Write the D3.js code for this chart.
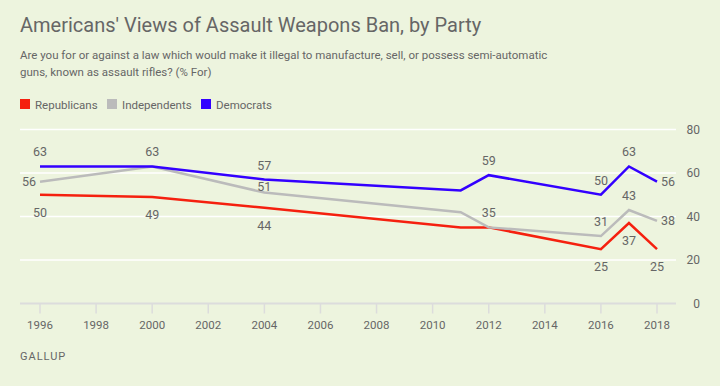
<!DOCTYPE html>
<html>
<head>
<meta charset="utf-8">
<script src="https://cdn.jsdelivr.net/npm/d3@7"></script>
<style>
  body { margin: 0; background: #edf4de; }
  svg { display: block; font-family: Roboto, "Noto Sans", sans-serif; }
</style>
</head>
<body>
<svg id="chart" width="720" height="386"></svg>
<script>
// years surveyed
var years = [1996, 2000, 2004, 2011, 2012, 2016, 2017, 2018];
// % for, by party
var republicans = [50, 49, 44, 35, 35, 25, 37, 25];
var independents = [56, 63, 51, 42, 35, 31, 43, 38];
var democrats = [63, 63, 57, 52, 59, 50, 63, 56];
var yTicks = [0, 20, 40, 60, 80];
var xTicks = [1996, 1998, 2000, 2002, 2004, 2006, 2008, 2010, 2012, 2014, 2016, 2018];

// where each value label goes: a = above, c = just above, b = below, l = left, r = right, "" = none
var repPos = ["b", "b", "b", "", "", "b", "b", "b"];
var indPos = ["l", "", "c", "", "a", "a", "a", "r"];
var demPos = ["a", "a", "a", "", "a", "a", "a", "r"];

var series = [
  {name: "Republicans", values: republicans, pos: repPos, colour: "#f5200f"},
  {name: "Independents", values: independents, pos: indPos, colour: "#bbbbbb"},
  {name: "Democrats", values: democrats, pos: demPos, colour: "#3300ff"}
];

var svg = d3.select("#chart");
var textCol = "#666";

var x = d3.scaleLinear().domain([1996, 2018]).range([40, 657]);
var y = d3.scaleLinear().domain([0, 80]).range([303.5, 129.5]);

// title + question
svg.append("text").attr("x", 20).attr("y", 32)
  .attr("font-size", 20).attr("fill", textCol)
  .text("Americans' Views of Assault Weapons Ban, by Party");
var sub = svg.append("text").attr("font-size", 11.5).attr("fill", textCol);
sub.append("tspan").attr("x", 20).attr("y", 59)
  .text("Are you for or against a law which would make it illegal to manufacture, sell, or possess semi-automatic");
sub.append("tspan").attr("x", 20).attr("y", 76)
  .text("guns, known as assault rifles? (% For)");

// legend
var lx = [20, 107, 201];
var leg = svg.selectAll(".leg").data(series).enter().append("g")
  .attr("transform", function(d, i) { return "translate(" + lx[i] + ",99)"; });
leg.append("rect").attr("width", 10).attr("height", 10).attr("fill", function(d) { return d.colour; });
leg.append("text").attr("x", 15).attr("y", 9.5).attr("font-size", 11.5).attr("fill", textCol)
  .text(function(d) { return d.name; });

// grid
svg.selectAll(".grid").data(yTicks.filter(function(t) { return t > 0; })).enter().append("line")
  .attr("x1", 20).attr("x2", 676)
  .attr("y1", function(d) { return y(d); }).attr("y2", function(d) { return y(d); })
  .attr("stroke", "#fff").attr("stroke-width", 1.5);

svg.selectAll(".ylab").data(yTicks).enter().append("text")
  .attr("x", 700).attr("y", function(d) { return y(d) + 4; })
  .attr("text-anchor", "end").attr("font-size", 12).attr("fill", textCol)
  .text(function(d) { return d; });

// x axis
svg.append("line").attr("x1", 20).attr("x2", 676).attr("y1", y(0)).attr("y2", y(0))
  .attr("stroke", "#dcdcdc").attr("stroke-width", 2);
svg.selectAll(".xt").data(xTicks).enter().append("line")
  .attr("x1", function(d) { return x(d); }).attr("x2", function(d) { return x(d); })
  .attr("y1", y(0)).attr("y2", y(0) + 10)
  .attr("stroke", "#dcdcdc").attr("stroke-width", 1.5);
svg.selectAll(".xlab").data(xTicks).enter().append("text")
  .attr("x", function(d) { return x(d); }).attr("y", 329)
  .attr("text-anchor", "middle").attr("font-size", 11.5).attr("fill", textCol)
  .text(function(d) { return d; });

// lines
var line = d3.line()
  .x(function(d, i) { return x(years[i]); })
  .y(function(d) { return y(d); });

svg.selectAll(".series").data(series).enter().append("path")
  .attr("d", function(d) { return line(d.values); })
  .attr("fill", "none")
  .attr("stroke", function(d) { return d.colour; })
  .attr("stroke-width", 2.5);

// value labels
series.forEach(function(s) {
  s.values.forEach(function(v, i) {
    var p = s.pos[i];
    if (!p) return;
    var px = x(years[i]), py = y(v), anchor = "middle";
    if (p == "a") py -= 10;
    if (p == "c") py -= 2;
    if (p == "b") py += 22;
    if (p == "l") { px -= 4; py += 4; anchor = "end"; }
    if (p == "r") { px += 4; py += 4; anchor = "start"; }
    svg.append("text").attr("x", px).attr("y", py)
      .attr("text-anchor", anchor).attr("font-size", 12.5).attr("fill", textCol)
      .text(v);
  });
});

svg.append("text").attr("x", 20).attr("y", 360)
  .attr("font-size", 11).attr("letter-spacing", 1).attr("fill", textCol)
  .text("GALLUP");
</script>
</body>
</html>
